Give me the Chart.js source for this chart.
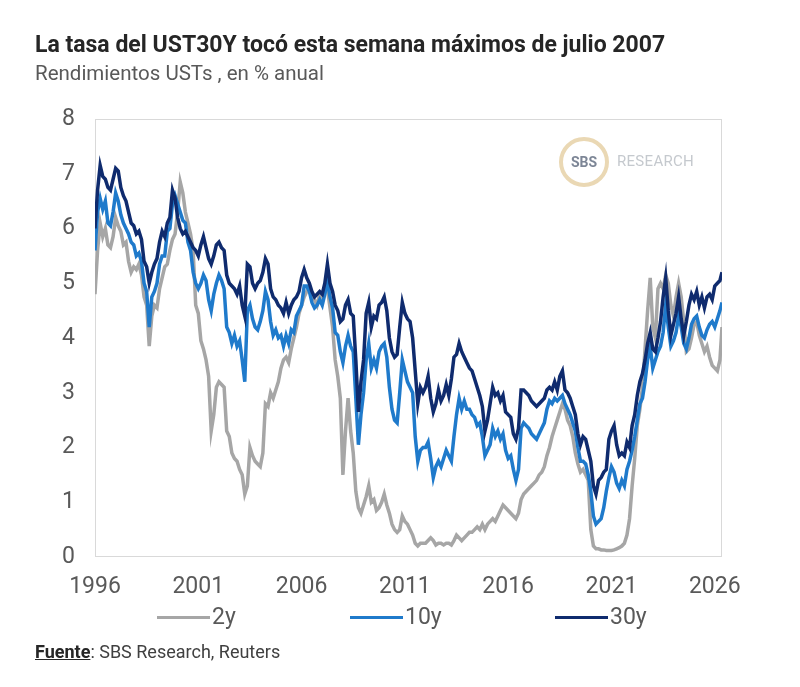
<!DOCTYPE html>
<html>
<head>
<meta charset="utf-8">
<script src="https://cdn.jsdelivr.net/npm/chart.js@4.4.1/dist/chart.umd.min.js"></script>
<style>
  body { margin: 0; background: #fff; font-family: Roboto, "Noto Sans", sans-serif; }
  #wrap { position: relative; width: 800px; height: 687px; overflow: hidden; }
  #c { position: absolute; left: 0; top: 0; }
  #title { position: absolute; left: 35px; top: 31px; font-size: 23px; font-weight: bold; color: #262626; white-space: nowrap; }
  #sub { position: absolute; left: 35px; top: 61px; font-size: 20.5px; color: #595959; white-space: nowrap; }
  #src { position: absolute; left: 35px; top: 641px; font-size: 18px; color: #404040; white-space: nowrap; }
  #src b { text-decoration: underline; color: #262626; }
  .leg { position: absolute; top: 603px; font-size: 23px; color: #595959; white-space: nowrap; line-height: 28px; }
  .leg i { display: inline-block; width: 53px; height: 3px; vertical-align: middle; margin-right: 2px; }
  #logo { position: absolute; left: 559px; top: 137px; width: 50px; height: 50px; box-sizing: border-box;
          border: 4px solid #ead8b4; border-radius: 50%; text-align: center; line-height: 42px;
          font-size: 14px; font-weight: bold; color: #7d8696; }
  #res { position: absolute; left: 617px; top: 152px; font-size: 15px; color: #c5c9ce; letter-spacing: 0.3px; }
</style>
</head>
<body>
<div id="wrap">
  <canvas id="c" width="800" height="687"></canvas>
  <div id="title">La tasa del UST30Y tocó esta semana máximos de julio 2007</div>
  <div id="sub">Rendimientos USTs , en % anual</div>
  <div id="logo">SBS</div>
  <div id="res">RESEARCH</div>
  <div class="leg" style="left:157px"><i style="background:#a6a6a6"></i>2y</div>
  <div class="leg" style="left:350px"><i style="background:#1f7acb"></i>10y</div>
  <div class="leg" style="left:555px"><i style="background:#0f2b6e"></i>30y</div>
  <div id="src"><b>Fuente</b>: SBS Research, Reuters</div>
</div>
<script>
// fechas en años decimales (posición en el eje del gráfico)
const dates = [
  1996, 1996.125, 1996.25, 1996.375, 1996.5, 1996.625, 1996.75, 1996.875,
  1997, 1997.125, 1997.25, 1997.375, 1997.5, 1997.625, 1997.75, 1997.875,
  1998, 1998.125, 1998.25, 1998.375, 1998.5, 1998.625, 1998.75, 1998.875,
  1999, 1999.125, 1999.25, 1999.375, 1999.5, 1999.625, 1999.75, 1999.875,
  2000, 2000.125, 2000.25, 2000.375, 2000.5, 2000.625, 2000.75, 2000.875,
  2001, 2001.125, 2001.25, 2001.375, 2001.5, 2001.625, 2001.75, 2001.875,
  2002, 2002.125, 2002.25, 2002.375, 2002.5, 2002.625, 2002.75, 2002.875,
  2003, 2003.125, 2003.25, 2003.375, 2003.5, 2003.625, 2003.75, 2003.875,
  2004, 2004.125, 2004.25, 2004.375, 2004.5, 2004.625, 2004.75, 2004.875,
  2005, 2005.125, 2005.25, 2005.375, 2005.5, 2005.625, 2005.75, 2005.875,
  2006, 2006.125, 2006.25, 2006.375, 2006.5, 2006.625, 2006.75, 2006.875,
  2007, 2007.125, 2007.25, 2007.375, 2007.5, 2007.625, 2007.75, 2007.875,
  2008, 2008.125, 2008.25, 2008.375, 2008.5, 2008.625, 2008.75, 2008.875,
  2009, 2009.125, 2009.25, 2009.375, 2009.5, 2009.625, 2009.75, 2009.875,
  2010, 2010.125, 2010.25, 2010.375, 2010.5, 2010.625, 2010.75, 2010.875,
  2011, 2011.125, 2011.25, 2011.375, 2011.5, 2011.625, 2011.75, 2011.875,
  2012, 2012.125, 2012.25, 2012.375, 2012.5, 2012.625, 2012.75, 2012.875,
  2013, 2013.125, 2013.25, 2013.375, 2013.5, 2013.625, 2013.75, 2013.875,
  2014, 2014.125, 2014.25, 2014.375, 2014.5, 2014.625, 2014.75, 2014.875,
  2015, 2015.125, 2015.25, 2015.375, 2015.5, 2015.625, 2015.75, 2015.875,
  2016, 2016.125, 2016.25, 2016.375, 2016.5, 2016.625, 2016.75, 2016.875,
  2017, 2017.125, 2017.25, 2017.375, 2017.5, 2017.625, 2017.75, 2017.875,
  2018, 2018.125, 2018.25, 2018.375, 2018.5, 2018.625, 2018.75, 2018.875,
  2019, 2019.125, 2019.25, 2019.375, 2019.5, 2019.625, 2019.75, 2019.875,
  2020, 2020.125, 2020.25, 2020.375, 2020.5, 2020.625, 2020.75, 2020.875,
  2021, 2021.125, 2021.25, 2021.375, 2021.5, 2021.625, 2021.75, 2021.875,
  2022, 2022.125, 2022.25, 2022.375, 2022.5, 2022.625, 2022.75, 2022.875,
  2023, 2023.125, 2023.25, 2023.375, 2023.5, 2023.625, 2023.75, 2023.875,
  2024, 2024.125, 2024.25, 2024.375, 2024.5, 2024.625, 2024.75, 2024.875,
  2025, 2025.125, 2025.25, 2025.375, 2025.5, 2025.625, 2025.75, 2025.875,
  2026, 2026.125, 2026.25, 2026.35
];

// rendimiento 2 años (%)
const y2 = [
  4.8, 5.6, 6.1, 5.85, 6.0, 5.7, 5.65, 5.85,
  6.2, 6.05, 5.95, 5.7, 5.75, 5.4, 5.2, 5.3,
  5.25, 5.35, 5.15, 4.75, 4.6, 3.85, 4.4, 4.6,
  4.55, 4.9, 5.1, 5.3, 5.35, 5.6, 5.8, 5.9,
  6.3, 6.85, 6.65, 6.3, 6.1, 5.9, 5.6, 4.6,
  4.45, 3.95, 3.8, 3.6, 3.3, 2.3, 2.6, 3.1,
  3.2, 3.15, 3.1, 2.3, 2.2, 1.9, 1.8, 1.75,
  1.6, 1.5, 1.15, 1.3, 2.0, 1.85, 1.75, 1.7,
  1.65, 1.9, 2.8, 2.75, 3.0, 2.9, 3.05, 3.2,
  3.45, 3.6, 3.65, 3.55, 3.8, 4.0, 4.2, 4.45,
  4.6, 4.75, 4.85, 4.95, 4.8, 4.7, 4.6, 4.8,
  4.7, 4.85, 4.9, 4.55, 4.2, 3.6, 3.3, 2.9,
  1.5, 2.3, 2.9, 2.3, 1.9, 1.2, 0.9, 0.8,
  0.95, 1.1, 1.3, 1.0, 1.05, 0.85, 0.9, 1.0,
  1.15, 0.95, 0.8, 0.6, 0.5, 0.45, 0.5, 0.75,
  0.65, 0.6, 0.5, 0.4, 0.25, 0.2, 0.25, 0.25,
  0.25, 0.3, 0.35, 0.3, 0.22, 0.25, 0.25, 0.22,
  0.25, 0.25, 0.22, 0.3, 0.4, 0.35, 0.3, 0.35,
  0.4, 0.45, 0.45, 0.5, 0.55, 0.5, 0.6, 0.5,
  0.6, 0.65, 0.7, 0.65, 0.75, 0.85, 0.95, 0.9,
  0.85, 0.8, 0.75, 0.7, 0.8, 1.05, 1.15, 1.2,
  1.25, 1.3, 1.35, 1.4, 1.5, 1.55, 1.65, 1.85,
  2.0, 2.2, 2.35, 2.5, 2.65, 2.8, 2.7, 2.5,
  2.4, 2.2, 1.9, 1.7, 1.55, 1.6, 1.5, 1.4,
  0.5, 0.2, 0.15, 0.15, 0.13, 0.13, 0.12, 0.12,
  0.12, 0.13, 0.15, 0.17, 0.2, 0.25, 0.4, 0.7,
  1.3, 1.8, 2.4, 2.7, 3.1, 3.8, 4.5, 5.1,
  4.2, 4.0, 4.9, 5.0, 4.9, 5.15, 5.0, 4.6,
  4.4, 4.75, 5.0, 4.75, 4.3, 3.75, 3.8, 4.0,
  4.25, 4.3, 4.05, 3.9, 3.75, 3.85, 3.65, 3.5,
  3.45, 3.4, 3.6, 4.2
];

// rendimiento 10 años (%)
const y10 = [
  5.6, 6.3, 6.55, 6.35, 6.5, 6.1, 6.05, 6.3,
  6.65, 6.5, 6.25, 6.1, 6.0, 5.9, 5.75, 5.7,
  5.5, 5.55, 5.4, 5.0, 4.85, 4.2, 4.75, 4.85,
  5.0, 5.35, 5.5, 5.5, 5.95, 6.0, 6.45, 6.6,
  6.45, 6.3, 6.15, 6.1, 5.75, 5.6, 5.2, 5.0,
  4.9, 5.0, 5.15, 5.05, 4.7, 4.5, 4.8, 5.0,
  5.15, 5.05, 4.9, 4.2, 4.1, 3.9, 4.05, 3.85,
  3.95, 3.6, 3.2, 4.5, 4.6, 4.35, 4.2, 4.15,
  4.3, 4.5, 4.85, 4.7, 4.3, 4.05, 4.15, 4.0,
  4.05, 3.85, 4.05, 3.9, 4.15, 4.1, 4.4, 4.5,
  4.6, 4.95, 4.95, 4.85, 4.65, 4.55, 4.6, 4.7,
  4.6, 4.8, 5.05, 4.75, 4.55, 4.1, 4.05, 3.75,
  3.55, 3.85, 4.05, 3.85, 3.75, 2.9, 2.05, 2.6,
  3.0, 3.6, 3.9, 3.45, 3.6, 3.45, 3.75, 3.85,
  3.9, 3.65, 3.1, 2.7, 2.5, 2.45, 3.0, 3.6,
  3.4, 3.2, 3.1, 3.0, 2.2, 1.75, 1.95, 2.0,
  2.0, 2.1, 1.8, 1.45, 1.65, 1.75, 1.65, 1.8,
  1.95, 1.85, 1.75, 2.2, 2.6, 2.9, 2.7, 2.85,
  2.7, 2.7, 2.6, 2.55, 2.4, 2.45, 2.2, 1.85,
  1.95, 2.05, 2.35, 2.2, 2.3, 2.15, 2.25, 1.95,
  1.8, 1.85, 1.6, 1.4, 1.6, 2.35, 2.45, 2.4,
  2.35, 2.25, 2.2, 2.15, 2.25, 2.35, 2.45, 2.7,
  2.85, 2.8, 2.9, 2.85, 2.9, 2.95, 2.8, 2.7,
  2.6, 2.45, 2.3, 2.0, 1.75, 1.75, 1.7, 1.5,
  1.2, 0.75, 0.6, 0.65, 0.7, 0.9, 1.2, 1.45,
  1.65, 1.55, 1.35, 1.25, 1.4, 1.3, 1.6, 1.75,
  1.95, 2.2, 2.5, 2.8, 2.9, 3.2, 3.6, 3.85,
  3.45, 3.6, 3.75, 3.85, 4.1, 4.6, 4.2, 3.85,
  3.95, 4.1, 4.4, 4.2, 3.9, 3.8, 4.0, 4.25,
  4.35, 4.4, 4.2, 4.05, 4.0, 4.15, 4.25, 4.3,
  4.2, 4.35, 4.5, 4.65
];

// rendimiento 30 años (%)
const y30 = [
  6.0, 6.7, 7.15, 6.95, 6.9, 6.75, 6.7, 6.9,
  7.1, 7.05, 6.75, 6.6, 6.5, 6.3, 6.1, 6.05,
  5.9, 5.95, 5.8, 5.4, 5.3, 5.0, 5.2, 5.35,
  5.45, 5.75, 5.95, 5.85, 6.1, 6.2, 6.7, 6.55,
  6.2, 6.0, 5.9, 5.95, 5.85, 5.75, 5.65, 5.6,
  5.5, 5.7, 5.85, 5.65, 5.45, 5.35, 5.5, 5.7,
  5.75, 5.65, 5.6, 5.15, 5.0, 4.95, 4.9, 4.8,
  4.95, 4.6, 4.4, 5.35, 5.3, 5.0, 4.9, 5.0,
  5.05, 5.2, 5.45, 5.35, 4.9, 4.75, 4.7, 4.6,
  4.55, 4.45, 4.65, 4.45, 4.6, 4.7, 4.75, 4.85,
  5.1, 5.25, 5.1, 5.0, 4.85, 4.75, 4.8, 4.85,
  4.8, 5.0, 5.35, 5.0, 4.85, 4.6, 4.5, 4.3,
  4.35, 4.6, 4.7, 4.45, 4.4, 3.6, 2.65, 3.2,
  3.6, 4.45, 4.65, 4.2, 4.4, 4.35, 4.6, 4.65,
  4.75, 4.5, 4.0, 3.75, 3.65, 3.7, 4.2, 4.65,
  4.45, 4.35, 4.3, 4.0, 3.4, 2.8, 3.1, 3.0,
  3.1, 3.3, 2.9, 2.65, 2.8, 3.05, 2.85, 2.95,
  3.15, 2.95, 3.25, 3.65, 3.7, 3.9, 3.75, 3.65,
  3.55, 3.45, 3.4, 3.25, 3.1, 2.95, 2.75, 2.3,
  2.5, 2.8, 3.1, 2.95, 3.0, 2.85, 2.95, 2.65,
  2.6, 2.55, 2.25, 2.15, 2.35, 3.05, 3.05, 3.0,
  2.95, 2.85, 2.8, 2.75, 2.8, 2.85, 2.9, 3.05,
  3.1, 3.05, 3.2, 3.05, 3.3, 3.4, 3.05, 3.0,
  2.9, 2.75, 2.6, 2.25, 2.05, 2.2, 2.15, 1.95,
  1.75, 1.3, 1.15, 1.4, 1.45, 1.55, 1.6, 2.15,
  2.3, 2.4, 2.05, 1.85, 1.9, 1.85, 2.1, 2.0,
  2.4, 2.6, 2.95, 3.2, 3.35, 3.6, 3.9, 4.1,
  3.8, 3.75, 4.0, 4.3, 4.75, 5.1, 4.5, 4.05,
  4.25, 4.45, 4.75, 4.35, 4.05, 4.3, 4.6, 4.8,
  4.7, 4.85, 4.6, 4.75, 4.55, 4.75, 4.8, 4.7,
  4.95, 5.0, 5.05, 5.2
];

const xTicks = [1996, 2001, 2006, 2011, 2016, 2021, 2026];
const yTicks = [0, 1, 2, 3, 4, 5, 6, 7, 8];

const toPoints = vals => dates.map((d, i) => ({ x: d, y: vals[i] }));

// marco gris alrededor del área del gráfico
const frame = {
  id: 'frame',
  beforeDatasetsDraw(chart) {
    const { ctx, chartArea: a } = chart;
    ctx.save();
    ctx.strokeStyle = '#d9d9d9';
    ctx.lineWidth = 1;
    ctx.strokeRect(a.left + 0.5, a.top + 0.5, a.width - 1, a.height - 1);
    ctx.restore();
  }
};

const line = (label, vals, color, order) => ({
  label: label,
  data: toPoints(vals),
  borderColor: color,
  backgroundColor: color,
  borderWidth: 3.5,
  pointRadius: 0,
  tension: 0,
  order: order
});

new Chart(document.getElementById('c'), {
  type: 'line',
  data: {
    datasets: [
      line('2y', y2, '#a6a6a6', 3),
      line('10y', y10, '#1f7acb', 2),
      line('30y', y30, '#0f2b6e', 1)
    ]
  },
  options: {
    responsive: false,
    animation: false,
    layout: { padding: { left: 0, top: 119, right: 78, bottom: 90 } },
    plugins: { legend: { display: false }, tooltip: { enabled: false } },
    scales: {
      x: {
        type: 'linear',
        min: 1996,
        max: 2026.35,
        grid: { display: false, drawTicks: false },
        border: { display: false },
        afterBuildTicks: s => { s.ticks = xTicks.map(v => ({ value: v })); },
        afterFit: s => { s.height = 40; },
        ticks: {
          padding: 16,
          maxRotation: 0,
          autoSkip: false,
          color: '#595959',
          font: { family: 'Roboto', size: 23 },
          callback: v => String(v)
        }
      },
      y: {
        min: 0,
        max: 8,
        grid: { display: false, drawTicks: false },
        border: { display: false },
        afterBuildTicks: s => { s.ticks = yTicks.map(v => ({ value: v })); },
        afterFit: s => { s.width = 95; },
        ticks: {
          padding: 20,
          color: '#595959',
          font: { family: 'Roboto', size: 23 }
        }
      }
    }
  },
  plugins: [frame]
});
</script>
</body>
</html>
